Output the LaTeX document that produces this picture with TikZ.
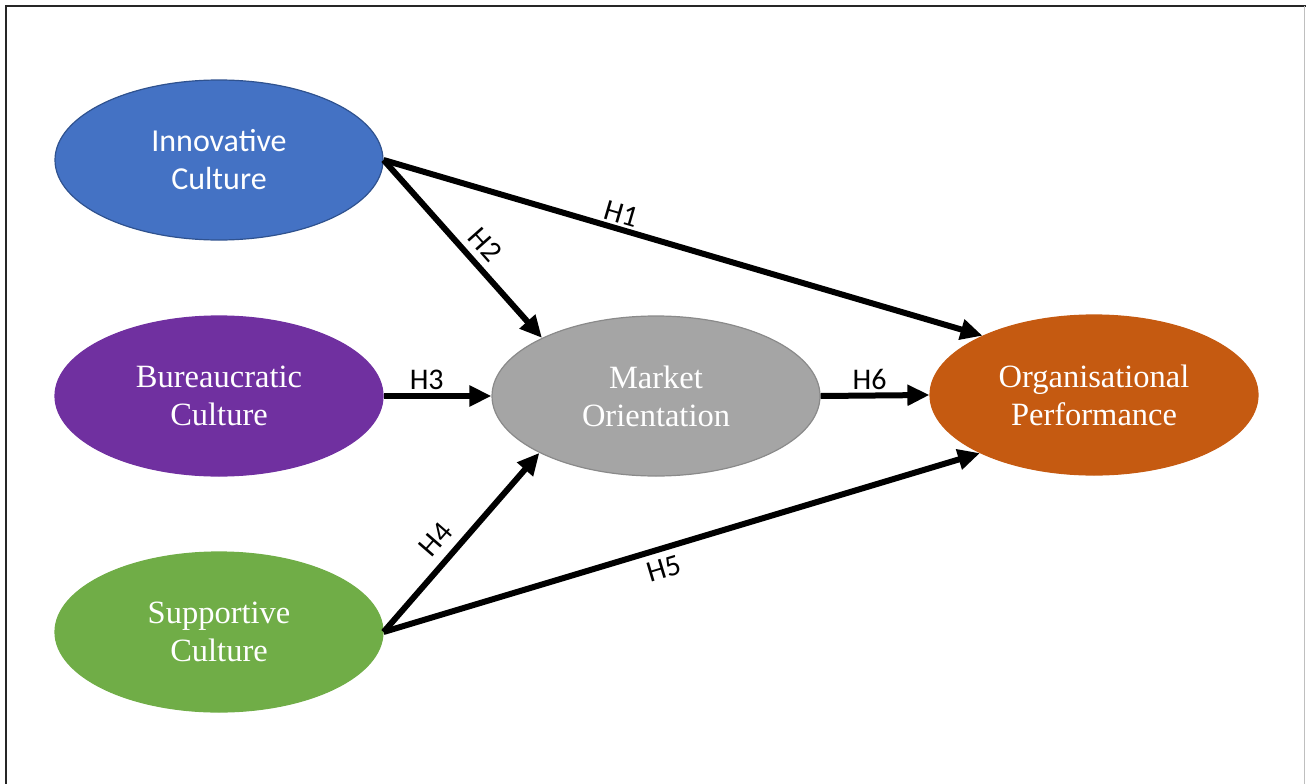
\documentclass[tikz,border=0pt]{standalone}
\usepackage{fontspec}
\setmainfont{Liberation Serif}
\newfontfamily\calfont{Carlito}
\usetikzlibrary{shapes.geometric,arrows.meta}
\definecolor{cblue}{HTML}{4472C4}
\definecolor{cblueb}{HTML}{2F528F}
\definecolor{cpurple}{HTML}{7030A0}
\definecolor{cgreen}{HTML}{70AD47}
\definecolor{cgrey}{HTML}{A5A5A5}
\definecolor{cgreyb}{HTML}{8A8A8A}
\definecolor{corange}{HTML}{C55A11}
\tikzset{
  blob/.style={ellipse, minimum width=328pt, minimum height=160pt, inner sep=0pt,
    text=white, align=center, line width=1.2pt},
  serifLab/.style={font=\fontsize{32.5}{38}\selectfont},
  sansLab/.style={font=\calfont\fontsize{32}{38}\selectfont},
  link/.style={line width=6pt, -{Triangle[length=22pt,width=20pt]}},
  hyp/.style={font=\calfont\fontsize{30}{34}\selectfont, inner sep=3pt},
  hypfar/.style={hyp, inner sep=7pt}
}
\begin{document}
\begin{tikzpicture}[x=1pt,y=-1pt]
\useasboundingbox (0,0) rectangle (1306,784);
% frame
\draw[line width=2.5pt, black!85] (6,784) -- (6,6) -- (1306,6);
\draw[line width=1pt, black!25] (1304.5,6) -- (1304.5,784);
% nodes
\node[blob, sansLab, fill=cblue, draw=cblueb] (I) at (219,160) {Innovative\\Culture};
\node[blob, serifLab, fill=cpurple, draw=cpurple] (B) at (219,396) {Bureaucratic\\Culture};
\node[blob, serifLab, fill=cgreen, draw=cgreen] (S) at (219,632) {Supportive\\Culture};
\node[blob, serifLab, fill=cgrey, draw=cgreyb] (M) at (656,396) {Market\\Orientation};
\node[blob, serifLab, fill=corange, draw=corange] (O) at (1094,395) {Organisational\\Performance};
% connectors
\draw[link] (I.east) -- node[hyp, sloped, above, pos=0.39] (h1) {H1} (O.152.8);
\draw[link] (I.east) -- node[hypfar, sloped, above, pos=0.55] (h2) {H2} (M.153);
\draw[link] (B.east) -- node[hyp, above, pos=0.4] (h3) {H3} (M.west);
\draw[link] (S.east) -- node[hypfar, sloped, above, pos=0.44, inner sep=9pt] (h4) {H4} (M.206);
\draw[link] (S.east) -- node[hypfar, sloped, below, pos=0.46] (h5) {H5} (O.207);
\draw[link] (M.east) -- node[hyp, above, pos=0.45] (h6) {H6} (O.west);
\end{tikzpicture}
\end{document}
